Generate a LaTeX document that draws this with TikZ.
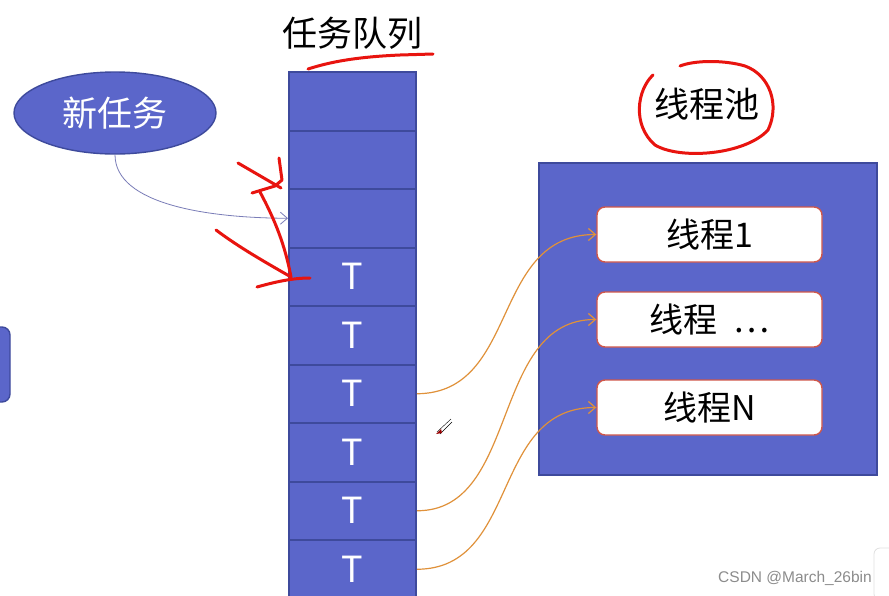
\documentclass[tikz,border=0pt]{standalone}
\usepackage{fontspec}
\setmainfont{Noto Sans CJK SC}
\newfontfamily\wmfont{Liberation Sans}
\usetikzlibrary{shapes.geometric,arrows.meta}
\definecolor{qfill}{HTML}{5B66CA}
\definecolor{qborder}{HTML}{3E4A9C}
\definecolor{tborder}{HTML}{D0574A}
\definecolor{orangeline}{HTML}{E0913A}
\definecolor{redmark}{HTML}{E8140F}
\definecolor{thinline}{HTML}{7A7DB8}
\tikzset{
  cell/.style={rectangle,draw=qborder,fill=qfill,line width=2pt,minimum width=127pt,minimum height=58.5pt,inner sep=0pt,text=white,font=\fontsize{36}{42}\selectfont},
  thread/.style={rectangle,rounded corners=8pt,draw=tborder,fill=white,line width=1.4pt,minimum width=225pt,minimum height=55pt,inner sep=0pt,font=\fontsize{34}{40}\selectfont},
  conn/.style={orangeline,line width=1.2pt,-{Straight Barb[length=7pt,width=12pt]}},
  redpen/.style={redmark,line width=3pt,line cap=round,line join=round},
  title/.style={font=\fontsize{35}{42}\selectfont,inner sep=0pt}
}
\begin{document}
\begin{tikzpicture}[x=1pt,y=-1pt]
\useasboundingbox (0,0) rectangle (889,595);
\clip (0,0) rectangle (889,595);
\fill[white] (0,0) rectangle (889,595);
% title
\node[title] (qtitle) at (352,33) {任务队列};
% queue
\foreach \i/\t in {1/,2/,3/,4/T,5/T,6/T,7/T,8/T,9/T}{
  \node[cell] (q\i) at (352.5,{72+29.25+(\i-1)*58.5}) {\t};
}
% new task ellipse
\node[ellipse,draw=qborder,fill=qfill,line width=1.4pt,minimum width=202pt,minimum height=82pt,inner sep=0pt,text=white,font=\fontsize{35}{42}\selectfont] (task) at (115,113) {新任务};
\draw[thinline,line width=0.8pt,-{Straight Barb[length=7pt,width=12pt]}] (task.south) .. controls (115,205) and (210,218) .. (q3.west);
% thread pool
\node[title] (ptitle) at (707,104) {线程池};
\node[rectangle,draw=qborder,fill=qfill,line width=1.8pt,minimum width=338pt,minimum height=312pt,inner sep=0pt] (pool) at (708,319) {};
\node[thread] (t1) at (709.5,234.5) {线程1};
\node[thread] (t2) at (709.5,319.5) {线程\ \ …};
\node[thread] (t3) at (709.5,407.5) {线程N};
% orange connectors
\draw[conn] (q6.east) .. controls (520,393) and (490,234.5) .. (t1.west);
\draw[conn] (q8.east) .. controls (520,511) and (490,319.5) .. (t2.west);
\draw[conn] (q9.east) .. controls (520,569) and (490,407.5) .. (t3.west);
% left partial box
\fill[qfill,draw=qborder,line width=1.4pt,rounded corners=8pt] (-20,327) rectangle (10,402);
% bottom right partial shape
\draw[black!12,fill=white,rounded corners=6pt,line width=0.8pt] (874,548) rectangle (900,600);
% pen cursor
\draw[black,line width=0.4pt] (437,432) -- (451,419) (440,434) -- (452,422);
\fill[red!60!black] (436,434) -- (441,429) -- (442,433) -- cycle;
% watermark
\node[text=black!45,font=\fontsize{15.5}{18}\wmfont,inner sep=0pt] (wm) at (795,578) {CSDN @March\_26bin};
% red hand annotations
\draw[redpen] (308,69) .. controls (330,62) and (355,57) .. (400,55) -- (433,54);
\draw[redpen] (653,75) .. controls (637,90) and (632,125) .. (655,145) .. controls (680,160) and (745,155) .. (768,130) .. controls (780,105) and (770,75) .. (745,66) .. controls (725,60) and (695,60) .. (680,66);
\draw[redpen] (238,163) -- (281,188);
\draw[redpen] (279,158) -- (282,180) -- (275,186) -- (252,193);
\draw[redpen] (260,192) .. controls (275,220) and (285,245) .. (291,277);
\draw[redpen] (216,230) .. controls (240,248) and (265,262) .. (291,277);
\draw[redpen] (257,287) .. controls (275,282) and (292,278) .. (310,278);
\end{tikzpicture}
\end{document}
